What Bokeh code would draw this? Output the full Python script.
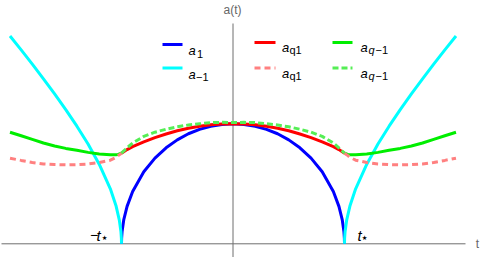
from bokeh.plotting import figure
from bokeh.models import Range1d, Label, GlobalInlineStyleSheet
from bokeh.embed import file_html
from bokeh.resources import INLINE

# ---------------- data (t in units of t*, a in units of a(0)) -------------
t_in = [-1.0, -0.999, -0.995, -0.98, -0.95, -0.9, -0.8, -0.7, -0.6, -0.5, -0.4, -0.3, -0.2, -0.1, 0.0,
        0.1, 0.2, 0.3, 0.4, 0.5, 0.6, 0.7, 0.8, 0.9, 0.95, 0.98, 0.995, 0.999, 1.0]
a_1 = [0.0, 0.045, 0.1, 0.199, 0.312, 0.436, 0.6, 0.714, 0.8, 0.866, 0.917, 0.954, 0.98, 0.995, 1.0,
       0.995, 0.98, 0.954, 0.917, 0.866, 0.8, 0.714, 0.6, 0.436, 0.312, 0.199, 0.1, 0.045, 0.0]

t_out_left = [-2.0, -1.9, -1.8, -1.7, -1.6, -1.5, -1.4, -1.3, -1.2, -1.1, -1.05, -1.02, -1.005, -1.001, -1.0]
a_m1_left = [1.732, 1.616, 1.497, 1.375, 1.249, 1.118, 0.98, 0.831, 0.663, 0.458, 0.32, 0.2, 0.1, 0.045, 0.0]
t_out_right = [1.0, 1.001, 1.005, 1.02, 1.05, 1.1, 1.2, 1.3, 1.4, 1.5, 1.6, 1.7, 1.8, 1.9, 2.0]
a_m1_right = [0.0, 0.045, 0.1, 0.2, 0.32, 0.458, 0.663, 0.831, 0.98, 1.118, 1.249, 1.375, 1.497, 1.616, 1.732]

t_q = [-1.0, -0.95, -0.9, -0.8, -0.7, -0.6, -0.5, -0.4, -0.3, -0.2, -0.1, 0.0,
       0.1, 0.2, 0.3, 0.4, 0.5, 0.6, 0.7, 0.8, 0.9, 0.95, 1.0]
a_q1_in = [0.755, 0.785, 0.81, 0.85, 0.885, 0.915, 0.942, 0.963, 0.98, 0.993, 0.998, 1.0,
           0.998, 0.993, 0.98, 0.963, 0.942, 0.915, 0.885, 0.85, 0.81, 0.785, 0.755]
a_qm1_in = [0.755, 0.80, 0.84, 0.895, 0.93, 0.955, 0.975, 0.99, 1.0, 1.01, 1.012, 1.01,
            1.012, 1.01, 1.0, 0.99, 0.975, 0.955, 0.93, 0.895, 0.84, 0.80, 0.755]

t_qo_left = [-2.0, -1.9, -1.8, -1.7, -1.6, -1.5, -1.4, -1.3, -1.2, -1.1, -1.05, -1.03, -1.0]
t_qo_right = [1.0, 1.03, 1.05, 1.1, 1.2, 1.3, 1.4, 1.5, 1.6, 1.7, 1.8, 1.9, 2.0]
a_qm1_out_left = [0.93, 0.90, 0.87, 0.84, 0.815, 0.795, 0.78, 0.762, 0.748, 0.742, 0.743, 0.745, 0.755]
a_qm1_out_right = [0.755, 0.745, 0.743, 0.742, 0.748, 0.762, 0.78, 0.795, 0.815, 0.84, 0.87, 0.90, 0.93]
a_q1_out_left = [0.713, 0.695, 0.678, 0.665, 0.66, 0.658, 0.66, 0.665, 0.677, 0.697, 0.72, 0.735, 0.755]
a_q1_out_right = [0.755, 0.735, 0.72, 0.697, 0.677, 0.665, 0.66, 0.658, 0.66, 0.665, 0.678, 0.695, 0.713]

# ---------------- layout helpers (pixel frame of the 480x257 picture) ----------------
W, H = 480, 257
X0, SX = 232.5, 111.5
Y0, SY = 243.3, 120.0


def tx(px):
    return (px - X0) / SX


def ay(py):
    return (Y0 - py) / SY


BLUE = "#0000ff"
CYAN = "#00ffff"
RED = "#ff0000"
GREEN = "#00ee00"
PINK = "#ff8080"
LGREEN = "#55ee55"
AXIS = "#6e6e6e"
FONT = "Liberation Sans"

p = figure(width=W, height=H, output_backend="svg", toolbar_location=None,
           x_range=Range1d(tx(0), tx(W)), y_range=Range1d(ay(H), ay(0)),
           x_axis_type=None, y_axis_type=None, min_border=0,
           background_fill_color="white", border_fill_color="white")
p.outline_line_color = None
p.xgrid.visible = False
p.ygrid.visible = False
p.stylesheets = [GlobalInlineStyleSheet(css="body{margin:0;}")]

# axes
p.segment(x0=[tx(1)], y0=[0], x1=[tx(465)], y1=[0], line_color=AXIS, line_width=1)
p.segment(x0=[0], y0=[ay(23)], x1=[0], y1=[ay(257)], line_color=AXIS, line_width=1)

LW = 3
p.line(t_in, a_1, line_color=BLUE, line_width=LW)
p.line(t_out_left, a_m1_left, line_color=CYAN, line_width=LW)
p.line(t_out_right, a_m1_right, line_color=CYAN, line_width=LW)
p.line(t_q, a_q1_in, line_color=RED, line_width=LW)
p.line(t_qo_left, a_qm1_out_left, line_color=GREEN, line_width=LW)
p.line(t_qo_right, a_qm1_out_right, line_color=GREEN, line_width=LW)
p.line(t_qo_left, a_q1_out_left, line_color=PINK, line_width=LW, line_dash="6 4")
p.line(t_qo_right, a_q1_out_right, line_color=PINK, line_width=LW, line_dash="6 4")
p.line(t_q, a_qm1_in, line_color=LGREEN, line_width=LW, line_dash="6 3")


def lab(text, x, y, size=12, color="black", style="normal", align="left", base="alphabetic", font=FONT):
    p.add_layout(Label(x=x, y=H - y, x_units="screen", y_units="screen", text=text,
                       text_font=font, text_font_size=f"{size}px", text_color=color,
                       text_font_style=style, text_align=align, text_baseline=base))


# axis labels
lab("a(t)", 232, 9, 12, "#666666", align="center", base="middle")
lab("t", 477, 243, 12, "#666666", align="center", base="middle")

# t* marks
lab("\u2212", 89.5, 234, 14)
lab("t", 96, 235, 15, style="italic")
lab("\u22c6", 104, 237, 13, align="center", base="middle", font="DejaVu Sans")
lab("t", 357, 235, 15, style="italic")
lab("\u22c6", 364, 237, 13, align="center", base="middle", font="DejaVu Sans")

# legend
def seg(x0, x1, y, color, dash="solid"):
    p.segment(x0=[tx(x0)], y0=[ay(y)], x1=[tx(x1)], y1=[ay(y)], line_color=color,
              line_width=LW, line_dash=dash)


seg(162, 182, 44, BLUE)
lab("a", 188, 50, 13, style="italic")
lab("1", 196.5, 53.5, 11)
seg(162, 182, 67.5, CYAN)
lab("a", 188, 73.5, 13, style="italic")
lab("\u22121", 195.5, 76.5, 11)

seg(254, 275, 42, RED)
lab("a", 281.5, 47, 13, style="italic")
lab("q1", 289, 49.5, 11)
seg(254, 275, 67.5, PINK, "6 4")
lab("a", 281.5, 73, 13, style="italic")
lab("q1", 289, 75.5, 11)

seg(332, 352, 42, GREEN)
lab("a", 360, 47, 13, style="italic")
lab("q", 368, 49.5, 11, style="italic")
lab("\u22121", 375, 49.5, 11)
seg(332, 352, 67.5, LGREEN, "6 3")
lab("a", 360, 73, 13, style="italic")
lab("q", 368, 75.5, 11, style="italic")
lab("\u22121", 375, 75.5, 11)

open("out.html", "w").write(file_html(p, INLINE))
